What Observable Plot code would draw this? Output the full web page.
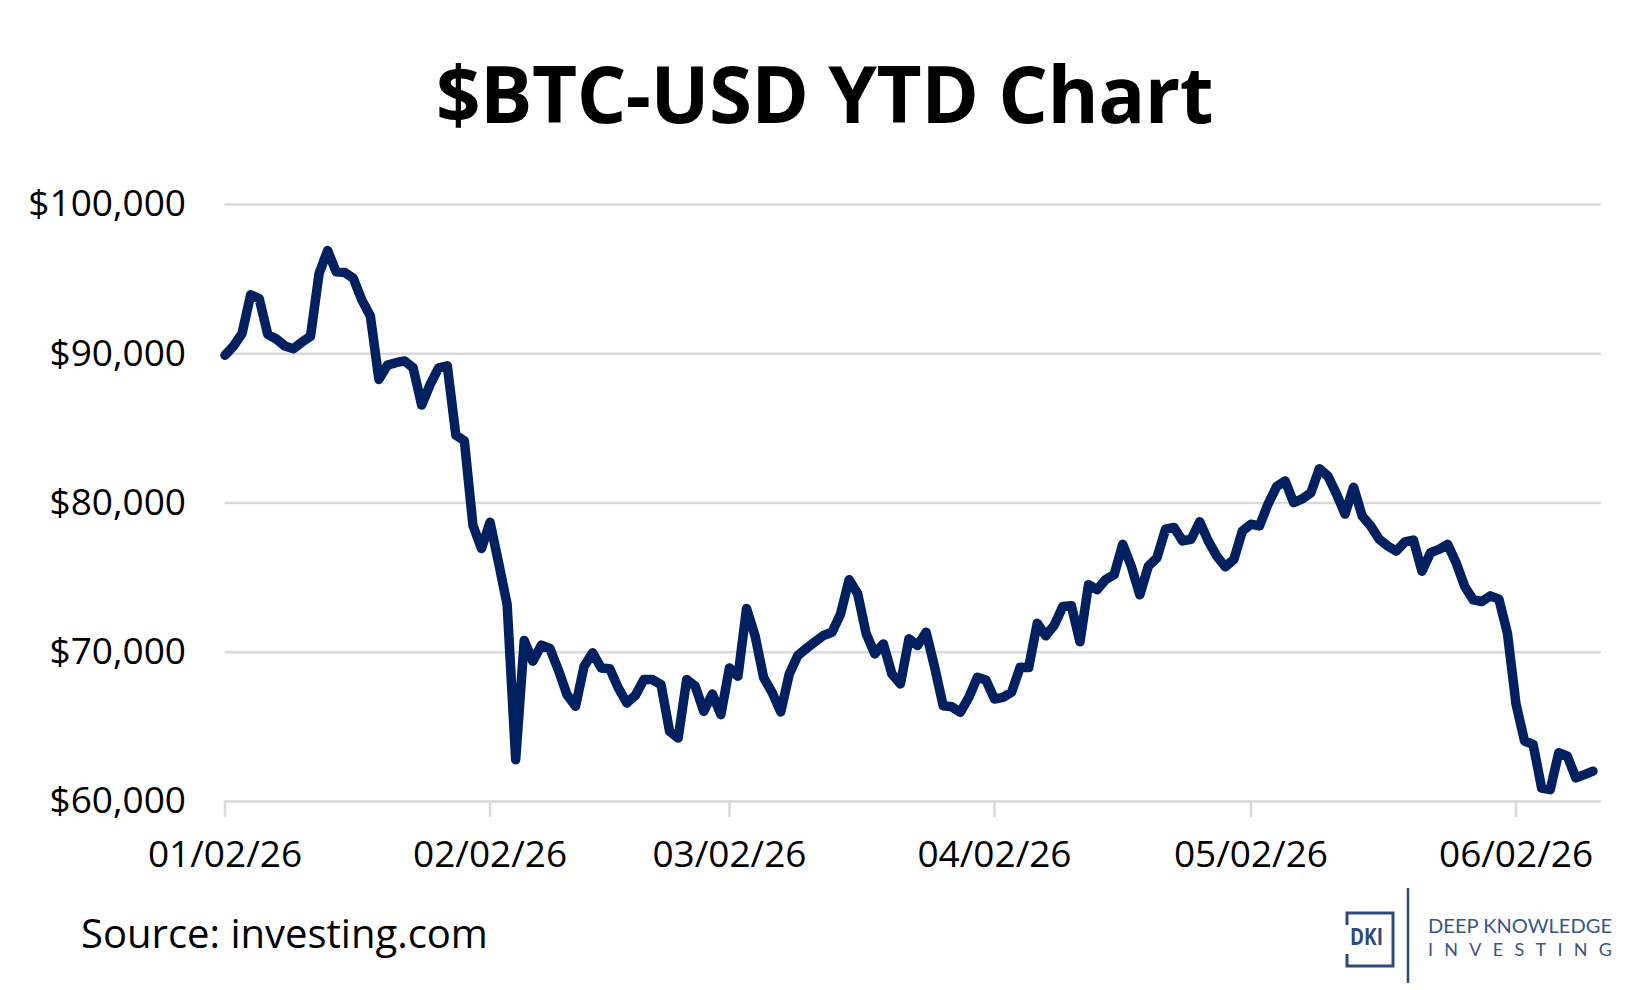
<!DOCTYPE html>
<html>
<head>
<meta charset="utf-8">
<script src="https://cdn.jsdelivr.net/npm/d3@7"></script>
<script src="https://cdn.jsdelivr.net/npm/@observablehq/plot@0.6"></script>
<style>
  html, body { margin: 0; padding: 0; background: #fff; }
  #wrap { position: relative; width: 1649px; height: 990px; overflow: hidden; background: #fff; font-family: "Open Sans", sans-serif; }
  #title { position: absolute; left: 0; top: 53px; width: 1649px; text-align: center; font-size: 78px; line-height: 80px; font-weight: 700; color: #000; white-space: nowrap; letter-spacing: -0.5px; }
  #chart { position: absolute; left: 0; top: 160px; }
  #source { position: absolute; left: 81px; top: 913px; font-size: 40px; line-height: 40px; color: #000; white-space: nowrap; }
  #logo { position: absolute; left: 1340px; top: 880px; }
</style>
</head>
<body>
<div id="wrap">
  <div id="title">$BTC-USD YTD Chart</div>
  <div id="chart"></div>
  <div id="source">Source: investing.com</div>
  <svg id="logo" width="300" height="110" viewBox="0 0 300 110">
    <g fill="none" stroke="#2e4a7d" stroke-width="3">
      <polyline points="7,45 7,33 53,33 53,86 7,86 7,74"></polyline>
      <line x1="68" y1="8" x2="68" y2="103" stroke-width="2.5"></line>
    </g>
    <text x="10" y="65" font-family="Open Sans" font-weight="700" font-size="24" fill="#2e4a7d" textLength="33" lengthAdjust="spacingAndGlyphs">DKI</text>
    <text x="88" y="53" font-family="Lato" font-size="19" fill="#3a5583" textLength="184" lengthAdjust="spacingAndGlyphs">DEEP KNOWLEDGE</text>
    <text x="88" y="76" font-family="Lato" font-size="18" fill="#3a5583" textLength="184" lengthAdjust="spacing">INVESTING</text>
  </svg>
</div>
<script>
// Daily BTC-USD closes, starting 2026-01-02
const startDate = "2026-01-02";
const prices = [
  89900, 90520, 91370, 93950, 93690, 91300, 90990, 90520, 90340, 90780,
  91170, 95370, 96910, 95490, 95440, 95060, 93610, 92530, 88280, 89240,
  89400, 89520, 89060, 86560, 87950, 89060, 89190, 84550, 84160, 78500,
  76950, 78710, 76000, 73200, 62800, 70790, 69400, 70470, 70250, 68800,
  67160, 66380, 69060, 69960, 68950, 68900, 67610, 66600, 67110, 68170,
  68170, 67830, 64700, 64250, 68170, 67720, 66040, 67200, 65820, 68950,
  68390, 72930, 71100, 68300, 67300, 66000, 68550, 69780, 70250, 70700,
  71120, 71340, 72570, 74860, 73920, 71230, 69890, 70560, 68550, 67880,
  70900, 70450, 71340, 69000, 66420, 66350, 65970, 66980, 68320, 68140,
  66870, 66980, 67320, 69000, 68980, 71940, 71100, 71820, 73060, 73110,
  70700, 74530, 74190, 74870, 75200, 77230, 75770, 73850, 75770, 76330,
  78240, 78360, 77460, 77570, 78740, 77460, 76440, 75720, 76220, 78130,
  78580, 78470, 79930, 81100, 81480, 80020, 80270, 80680, 82300, 81800,
  80610, 79260, 81060, 79140, 78470, 77570, 77120, 76780, 77390, 77520,
  75430, 76670, 76890, 77230, 75990, 74410, 73510, 73400, 73780, 73560,
  71260, 66530, 64050, 63830, 60900, 60790, 63270, 63040, 61580, 61800,
  62030
];
const yTicks = [60000, 70000, 80000, 90000, 100000];
const xTickDates = ["2026-01-02", "2026-02-02", "2026-03-02", "2026-04-02", "2026-05-02", "2026-06-02"];
const xDomain = ["2026-01-02", "2026-06-12"];

const start = new Date(startDate + "T00:00:00Z");
const data = prices.map((p, i) => ({ date: d3.utcDay.offset(start, i), price: p }));
const toDate = s => new Date(s + "T00:00:00Z");

const chart = Plot.plot({
  width: 1649,
  height: 740,
  marginTop: 44,
  marginBottom: 99,
  marginLeft: 224.5,
  marginRight: 48,
  style: { fontFamily: "Open Sans", fontSize: "37px", color: "#000", background: "#fff", overflow: "visible" },
  x: { type: "utc", domain: xDomain.map(toDate), label: null },
  y: { domain: [60000, 100000], label: null },
  marks: [
    Plot.gridY(yTicks, { stroke: "#d9d9d9", strokeOpacity: 1, strokeWidth: 2.5 }),
    Plot.axisY(yTicks, {
      tickSize: 0, tickPadding: 39, fontSize: 37,
      tickFormat: d => "$" + d3.format(",")(d)
    }),
    Plot.axisX(xTickDates.map(toDate), {
      tickSize: 16, tickPadding: 23, fontSize: 37,
      stroke: "#d9d9d9", strokeWidth: 2.5, strokeOpacity: 1,
      tickFormat: d3.utcFormat("%m/%d/%y")
    }),
    Plot.line(data, {
      x: "date", y: "price",
      stroke: "#002060", strokeWidth: 9.5,
      strokeLinejoin: "round", strokeLinecap: "round"
    })
  ]
});
document.getElementById("chart").appendChild(chart);
</script>
</body>
</html>
